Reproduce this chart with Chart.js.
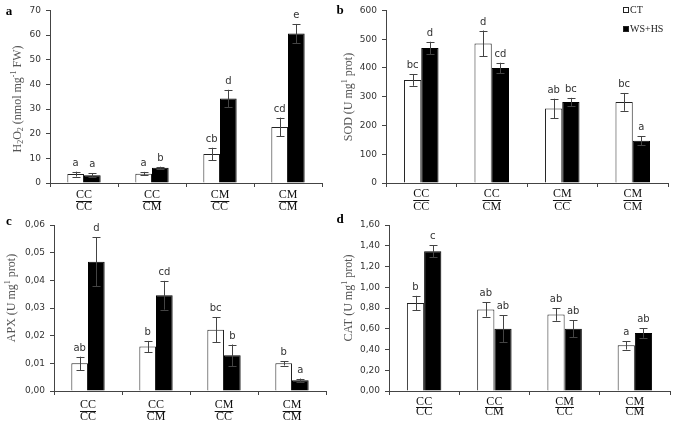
<!DOCTYPE html>
<html>
<head>
<meta charset="utf-8">
<script src="https://cdn.jsdelivr.net/npm/chart.js@4.4.1/dist/chart.umd.min.js"></script>
<style>
  html, body { margin:0; padding:0; background:#fff; }
  #wrap { position:relative; width:676px; height:430px; overflow:hidden; background:#fff; }
  canvas { position:absolute; left:0; top:0; }
</style>
</head>
<body>
<div id="wrap">
  <canvas id="ca" width="676" height="430"></canvas>
  <canvas id="cb" width="676" height="430"></canvas>
  <canvas id="cc" width="676" height="430"></canvas>
  <canvas id="cd" width="676" height="430"></canvas>
</div>
<script>
// ---------- DATA ----------
const categories = [['CC','CC'],['CC','CM'],['CM','CC'],['CM','CM']];
const seriesLabels = ['CT','WS+HS'];

// (a) H2O2
const h2o2CT        = [3.6, 3.8, 11.8, 22.7];
const h2o2CTErr     = [1.0, 0.7, 2.5, 3.8];
const h2o2CTLetters = ['a','a','cb','cd'];
const h2o2WS        = [3.1, 6.2, 34.3, 60.6];
const h2o2WSErr     = [0.8, 0.4, 3.5, 3.9];
const h2o2WSLetters = ['a','b','d','e'];
const h2o2Ticks     = [0,10,20,30,40,50,60,70];
const h2o2TickLabels= ['0','10','20','30','40','50','60','70'];

// (b) SOD
const sodCT        = [358, 485, 259, 282];
const sodCTErr     = [20, 45, 34, 31];
const sodCTLetters = ['bc','d','ab','bc'];
const sodWS        = [469, 400, 282, 147];
const sodWSErr     = [22, 18, 14, 15];
const sodWSLetters = ['d','cd','bc','a'];
const sodTicks     = [0,100,200,300,400,500,600];
const sodTickLabels= ['0','100','200','300','400','500','600'];

// (c) APX
const apxCT        = [0.0100, 0.0161, 0.0221, 0.0100];
const apxCTErr     = [0.0024, 0.0020, 0.0045, 0.0008];
const apxCTLetters = ['ab','b','bc','b'];
const apxWS        = [0.0467, 0.0346, 0.0129, 0.0039];
const apxWSErr     = [0.0088, 0.0052, 0.0039, 0.0006];
const apxWSLetters = ['d','cd','b','a'];
const apxTicks     = [0,0.01,0.02,0.03,0.04,0.05,0.06];
const apxTickLabels= ['0,00','0,01','0,02','0,03','0,04','0,05','0,06'];

// (d) CAT
const catCT        = [0.847, 0.786, 0.737, 0.44];
const catCTErr     = [0.07, 0.07, 0.06, 0.04];
const catCTLetters = ['b','ab','ab','a'];
const catWS        = [1.347, 0.60, 0.60, 0.558];
const catWSErr     = [0.06, 0.13, 0.08, 0.045];
const catWSLetters = ['c','ab','ab','ab'];
const catTicks     = [0,0.2,0.4,0.6,0.8,1.0,1.2,1.4,1.6];
const catTickLabels= ['0,00','0,20','0,40','0,60','0,80','1,00','1,20','1,40','1,60'];

// ---------- DECORATION PLUGIN ----------
const SERIF = '"Liberation Serif", "Times New Roman", serif';
const SANS = '"DejaVu Sans", Verdana, sans-serif';

const decoPlugin = {
  id: 'deco',
  afterDatasetsDraw(chart, args, o) {
    const ctx = chart.ctx;
    const ys = chart.scales.y, xs = chart.scales.x;
    const area = chart.chartArea;
    ctx.save();
    // error bars + letters
    chart.data.datasets.forEach((ds, di) => {
      const meta = chart.getDatasetMeta(di);
      meta.data.forEach((el, i) => {
        const v = ds.data[i], e = ds.errors[i];
        const yTop = ys.getPixelForValue(v + e);
        const yBot = ys.getPixelForValue(v - e);
        const x = Math.round(el.x) + 0.5;
        ctx.strokeStyle = '#444';
        ctx.lineWidth = 1;
        ctx.beginPath();
        ctx.moveTo(x, yTop); ctx.lineTo(x, yBot);
        ctx.moveTo(x - 4, Math.round(yTop) + 0.5); ctx.lineTo(x + 4, Math.round(yTop) + 0.5);
        ctx.moveTo(x - 4, Math.round(yBot) + 0.5); ctx.lineTo(x + 4, Math.round(yBot) + 0.5);
        ctx.stroke();
        ctx.fillStyle = '#333';
        ctx.font = '10px ' + SANS;
        ctx.textAlign = 'center';
        ctx.textBaseline = 'alphabetic';
        ctx.fillText(ds.letters[i], el.x, yTop - 6);
      });
    });
    // fraction category labels
    ctx.fillStyle = '#111';
    ctx.strokeStyle = '#111';
    ctx.font = '12px ' + SERIF;
    ctx.textAlign = 'center';
    ctx.textBaseline = 'middle';
    chart.data.labels.forEach((lab, i) => {
      const parts = categories[i];
      const x = xs.getPixelForValue(i);
      ctx.fillText(parts[0], x, area.bottom + o.fracTop);
      ctx.fillText(parts[1], x, area.bottom + o.fracBot);
      const w = Math.max(ctx.measureText(parts[0]).width, ctx.measureText(parts[1]).width);
      const ly = Math.round(area.bottom + o.fracLine) + 0.5;
      ctx.lineWidth = 1;
      ctx.beginPath();
      ctx.moveTo(x - w / 2, ly); ctx.lineTo(x + w / 2, ly);
      ctx.stroke();
    });
    // y title with sub/superscripts
    ctx.save();
    ctx.translate(o.titleX, o.titleY);
    ctx.rotate(-Math.PI / 2);
    ctx.fillStyle = '#555';
    ctx.textAlign = 'left';
    ctx.textBaseline = 'middle';
    const segFont = s => (s[1] ? '8px ' : '12px ') + SERIF;
    let total = 0;
    o.title.forEach(s => { ctx.font = segFont(s); total += ctx.measureText(s[0]).width; });
    let cx = -total / 2;
    o.title.forEach(s => {
      ctx.font = segFont(s);
      const dy = s[1] === 'sub' ? 3 : (s[1] === 'sup' ? -4 : 0);
      ctx.fillText(s[0], cx, dy);
      cx += ctx.measureText(s[0]).width;
    });
    ctx.restore();
    // panel letter
    ctx.fillStyle = '#000';
    ctx.font = 'bold 13px ' + SERIF;
    ctx.textAlign = 'center';
    ctx.textBaseline = 'middle';
    ctx.fillText(o.panel, o.panelX, o.panelY);
    // legend
    if (o.legend) {
      ctx.font = '10px ' + SERIF;
      ctx.textAlign = 'left';
      ctx.textBaseline = 'middle';
      chart.data.datasets.forEach((ds, di) => {
        const ly = o.legendY[di];
        ctx.fillStyle = ds.backgroundColor;
        ctx.fillRect(o.legendX, ly - 3, 6, 6);
        ctx.strokeStyle = '#222';
        ctx.lineWidth = 1;
        ctx.strokeRect(o.legendX + 0.5, ly - 2.5, 5, 5);
        ctx.fillStyle = '#222';
        ctx.fillText(ds.label, o.legendX + 7, ly + 0.5);
      });
    }
    ctx.restore();
  }
};

function makePanel(id, area, ct, ctErr, ctLet, ws, wsErr, wsLet, ticks, tickLabels, deco) {
  new Chart(document.getElementById(id), {
    type: 'bar',
    plugins: [decoPlugin],
    data: {
      labels: categories.map(c => c.join('/')),
      datasets: [
        { label: seriesLabels[0], data: ct, errors: ctErr, letters: ctLet,
          backgroundColor: '#ffffff', borderColor: '#222', borderWidth: 1,
          barPercentage: 1, categoryPercentage: 0.49 },
        { label: seriesLabels[1], data: ws, errors: wsErr, letters: wsLet,
          backgroundColor: '#000000', borderColor: '#000', borderWidth: 1,
          barPercentage: 1, categoryPercentage: 0.49 }
      ]
    },
    options: {
      responsive: false, animation: false, devicePixelRatio: 1,
      layout: { padding: { left: area.left - 40, right: 676 - area.right, top: area.top, bottom: 430 - area.bottom - 10 } },
      plugins: { legend: { display: false }, tooltip: { enabled: false }, deco: deco },
      scales: {
        x: {
          type: 'category', offset: true,
          grid: { offset: true, drawOnChartArea: false, drawTicks: true, tickLength: 4, color: '#444' },
          border: { color: '#444' },
          ticks: { display: false },
          afterFit(s) { s.height = 10; }
        },
        y: {
          min: ticks[0], max: ticks[ticks.length - 1],
          grid: { drawOnChartArea: false, drawTicks: true, tickLength: 4, color: '#444' },
          border: { color: '#444' },
          ticks: {
            font: { family: SANS, size: 9 }, color: '#333', padding: 5,
            callback: (v, i) => tickLabels[i]
          },
          afterBuildTicks(s) { s.ticks = ticks.map(v => ({ value: v })); },
          afterFit(s) { s.width = 40; }
        }
      }
    }
  });
}

makePanel('ca', { left: 50, right: 322, top: 9, bottom: 183 },
  h2o2CT, h2o2CTErr, h2o2CTLetters, h2o2WS, h2o2WSErr, h2o2WSLetters, h2o2Ticks, h2o2TickLabels,
  { fracTop: 12, fracLine: 17.5, fracBot: 24,
    title: [['H'],['2','sub'],['O'],['2','sub'],[' (nmol mg'],['-1','sup'],[' FW)']],
    titleX: 18, titleY: 99, panel: 'a', panelX: 9, panelY: 12 });

makePanel('cb', { left: 386, right: 668, top: 9, bottom: 183 },
  sodCT, sodCTErr, sodCTLetters, sodWS, sodWSErr, sodWSLetters, sodTicks, sodTickLabels,
  { fracTop: 11, fracLine: 16.5, fracBot: 24,
    title: [['SOD (U mg'],['1','sup'],[' prot)']],
    titleX: 349, titleY: 97, panel: 'b', panelX: 340, panelY: 11,
    legend: true, legendX: 623, legendY: [10, 29] });

makePanel('cc', { left: 54, right: 326, top: 225, bottom: 391 },
  apxCT, apxCTErr, apxCTLetters, apxWS, apxWSErr, apxWSLetters, apxTicks, apxTickLabels,
  { fracTop: 14, fracLine: 20, fracBot: 26,
    title: [['APX (U mg'],['1','sup'],[' prot)']],
    titleX: 12, titleY: 298, panel: 'c', panelX: 9, panelY: 222 });

makePanel('cd', { left: 389, right: 670, top: 225, bottom: 391 },
  catCT, catCTErr, catCTLetters, catWS, catWSErr, catWSLetters, catTicks, catTickLabels,
  { fracTop: 11, fracLine: 16, fracBot: 21,
    title: [['CAT (U mg'],['1','sup'],[' prot)']],
    titleX: 349, titleY: 298, panel: 'd', panelX: 340, panelY: 220 });
</script>
</body>
</html>
